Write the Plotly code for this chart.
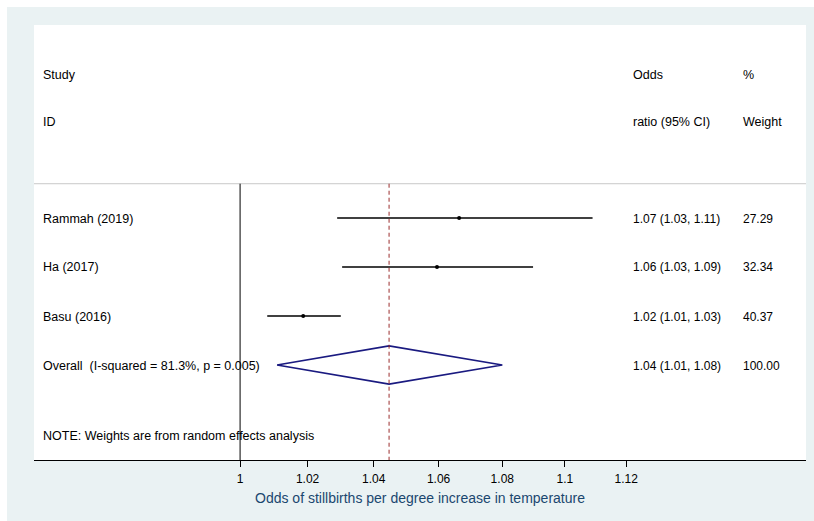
import math
import plotly.graph_objects as go

# ---- data ----
studies = ["Rammah (2019)", "Ha (2017)", "Basu (2016)"]
odds = [1.0664, 1.0595, 1.0187]
ci_low = [1.0289, 1.0304, 1.0080]
ci_high = [1.1090, 1.0898, 1.0300]
odds_text = ["1.07 (1.03, 1.11)", "1.06 (1.03, 1.09)", "1.02 (1.01, 1.03)"]
weights = ["27.29", "32.34", "40.37"]

overall_label = "Overall  (I-squared = 81.3%, p = 0.005)"
overall_est = 1.0447
overall_low = 1.0109
overall_high = 1.0800
overall_text = "1.04 (1.01, 1.08)"
overall_weight = "100.00"

tick_vals = [1, 1.02, 1.04, 1.06, 1.08, 1.1, 1.12]
tick_text = ["1", "1.02", "1.04", "1.06", "1.08", "1.1", "1.12"]
x_title = "Odds of stillbirths per degree increase in temperature"
note = "NOTE: Weights are from random effects analysis"

FONT = "Liberation Sans, Arial, sans-serif"
NAVY = "#1a1a80"
TITLE_BLUE = "#1a476f"
RED = "#9b2d2d"
BG = "#eaf2f3"

fig = go.Figure()

rows = [1, 2, 3]
text_rows = [1.02, 2.0, 3.02]
overall_row = 4
overall_text_row = 4.02
divider_row = 0.3
note_row = 5.46
head1_row = -1.92
head2_row = -0.95
y_top = -2.94
y_bottom = 5.94

# CI lines
for r, lo, hi in zip(rows, ci_low, ci_high):
    fig.add_trace(go.Scatter(x=[lo, hi], y=[r, r], mode="lines",
                             line=dict(color="black", width=1.6),
                             hoverinfo="skip", showlegend=False))
# point estimates
fig.add_trace(go.Scatter(x=odds, y=rows, mode="markers",
                         marker=dict(color="black", size=4),
                         showlegend=False))
# overall diamond
h = 0.39
fig.add_trace(go.Scatter(
    x=[overall_low, overall_est, overall_high, overall_est, overall_low],
    y=[overall_row, overall_row - h, overall_row, overall_row + h, overall_row],
    mode="lines", line=dict(color=NAVY, width=1.6), showlegend=False))

PW, PH = 772.0, 435.0
shapes = []
# white strips at top and left of the outer frame
shapes.append(dict(type="rect", xref="paper", yref="paper",
                   x0=-40 / PW, x1=1.05, y0=1 + 18 / PH, y1=1 + 30 / PH,
                   fillcolor="white", line=dict(width=0), layer="below"))
shapes.append(dict(type="rect", xref="paper", yref="paper",
                   x0=-40 / PW, x1=-27 / PW, y0=-0.3, y1=1 + 30 / PH,
                   fillcolor="white", line=dict(width=0), layer="below"))
# divider line
shapes.append(dict(type="line", xref="paper", yref="y", x0=0, x1=1,
                   y0=divider_row, y1=divider_row,
                   line=dict(color="#c8c8c8", width=1)))
# null line at 1
shapes.append(dict(type="line", xref="x", yref="y", x0=1, x1=1,
                   y0=divider_row, y1=y_bottom,
                   line=dict(color="black", width=1)))
# overall dashed line
shapes.append(dict(type="line", xref="x", yref="y", x0=overall_est, x1=overall_est,
                   y0=divider_row, y1=y_bottom,
                   line=dict(color=RED, width=1, dash="4px,3px")))

annotations = []
def txt(x, y, s, size=12.5):
    annotations.append(dict(x=x, y=y, xref="paper", yref="y", text=s,
                            showarrow=False, xanchor="left", yanchor="middle",
                            xshift=-1,
                            font=dict(family=FONT, size=size, color="black")))

col_label = (42 - 34) / PW
col_or = (632 - 34) / PW
col_w = (742 - 34) / PW

txt(col_label, head1_row, "Study")
txt(col_label, head2_row, "ID")
txt(col_or, head1_row, "Odds")
txt(col_or, head2_row, "ratio (95% CI)")
txt(col_w, head1_row, "%")
txt(col_w, head2_row, "Weight")
for r, s, o, w in zip(text_rows, studies, odds_text, weights):
    txt(col_label, r, s)
    txt(col_or, r, o, 12)
    txt(col_w, r, w, 12)
txt(col_label, overall_text_row, overall_label)
txt(col_or, overall_text_row, overall_text, 12)
txt(col_w, overall_text_row, overall_weight, 12)
txt(col_label, note_row, note)

fig.update_layout(
    width=814, height=521,
    margin=dict(l=34, r=8, t=25, b=61),
    paper_bgcolor=BG, plot_bgcolor="white",
    shapes=shapes, annotations=annotations,
    font=dict(family=FONT, size=12, color="black"),
    xaxis=dict(type="log",
               range=[math.log10(0.9413), math.log10(1.1807)],
               tickvals=tick_vals, ticktext=tick_text,
               ticks="outside", ticklen=6, tickcolor="black", tickwidth=1,
               ticklabelstandoff=2,
               showline=True, linecolor="black", linewidth=1,
               showgrid=False, zeroline=False,
               tickfont=dict(family=FONT, size=12, color="black"),
               title=dict(text=x_title, standoff=7,
                          font=dict(family=FONT, size=14, color=TITLE_BLUE))),
    yaxis=dict(range=[y_bottom, y_top], visible=False,
               showgrid=False, zeroline=False),
)

fig.write_html("out.html")
